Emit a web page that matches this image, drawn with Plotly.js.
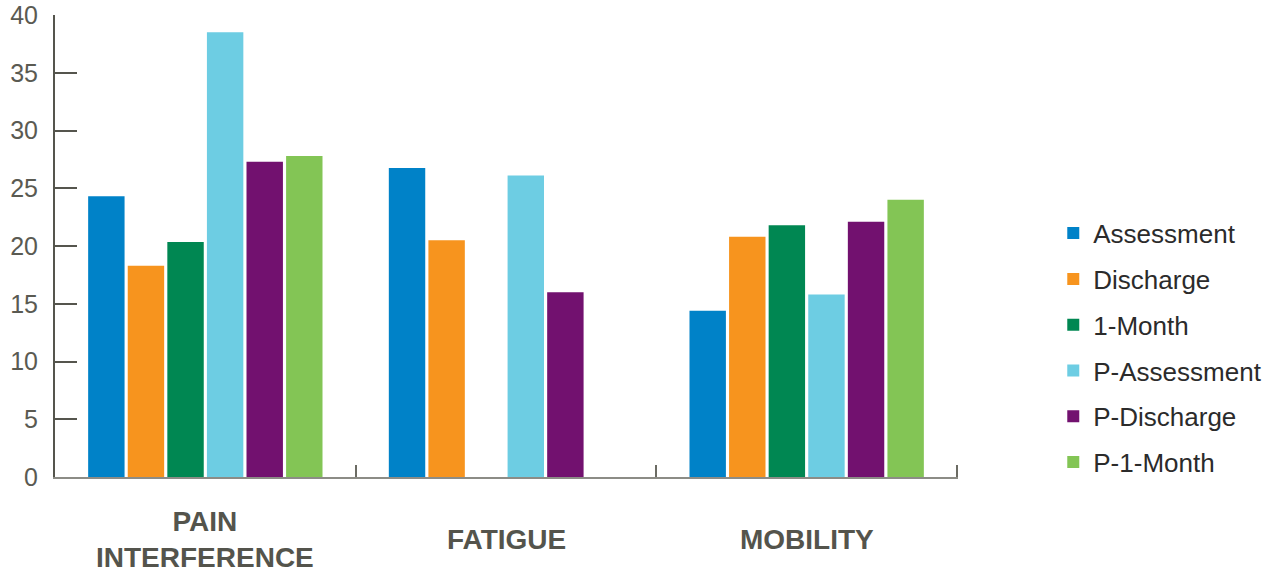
<!DOCTYPE html>
<html>
<head>
<meta charset="utf-8">
<script src="https://cdn.plot.ly/plotly-3.0.1.min.js"></script>
<style>html,body{margin:0;padding:0;background:#fff;}#chart{width:1269px;height:573px;}</style>
</head>
<body>
<div id="chart"></div>
<script>
const categories = ["PAIN INTERFERENCE", "FATIGUE", "MOBILITY"];
const categoryLabels = ["PAIN<br>INTERFERENCE", "FATIGUE", "MOBILITY"];
const seriesNames = ["Assessment", "Discharge", "1-Month", "P-Assessment", "P-Discharge", "P-1-Month"];
const assessment = [24.3, 26.75, 14.4];
const discharge = [18.3, 20.5, 20.8];
const oneMonth = [20.35, null, 21.8];
const pAssessment = [38.5, 26.1, 15.8];
const pDischarge = [27.3, 16.0, 22.1];
const pOneMonth = [27.8, null, 24.0];
const yTicks = [0, 5, 10, 15, 20, 25, 30, 35, 40];

const seriesValues = [assessment, discharge, oneMonth, pAssessment, pDischarge, pOneMonth];
const colors = ["#0082C8", "#F7941E", "#008752", "#6DCDE3", "#72116F", "#83C555"];

const traces = seriesNames.map((name, i) => ({
  type: "bar",
  name: name,
  x: categories,
  y: seriesValues[i],
  marker: {color: colors[i]},
  legendgroup: name,
  hoverinfo: "x+y+name"
}));

const annotations = categories.map((c, i) => ({
  x: c, xref: "x", y: -0.135, yref: "paper",
  text: categoryLabels[i], showarrow: false,
  xanchor: "center", yanchor: "middle", align: "center",
  font: {family: "Liberation Sans, Arial, sans-serif", size: 28, color: "#54544C", weight: "bold"}
}));

// boundary tick at the right end of the category axis
const endTick = {
  type: "line", xref: "x", yref: "paper",
  x0: categories.length - 0.5, x1: categories.length - 0.5, y0: 0, y1: 0.026,
  line: {color: "#6b6b63", width: 2}
};

const layout = {
  width: 1269, height: 573,
  margin: {l: 55, r: 311, t: 15, b: 96},
  paper_bgcolor: "#ffffff", plot_bgcolor: "#ffffff",
  barmode: "group", bargap: 0.21, bargroupgap: 0.08,
  font: {family: "Liberation Sans, Arial, sans-serif", color: "#333"},
  xaxis: {
    type: "category",
    categoryorder: "array", categoryarray: categories,
    showticklabels: false,
    tickson: "boundaries", ticks: "inside", ticklen: 12, tickwidth: 2, tickcolor: "#6b6b63",
    showline: true, linecolor: "#8c8c86", linewidth: 2,
    showgrid: false, zeroline: false, fixedrange: true
  },
  yaxis: {
    range: [0, 40], tickvals: yTicks, ticktext: yTicks.map(String),
    ticks: "inside", ticklen: 22, tickwidth: 2, tickcolor: "#55554D",
    ticklabelstandoff: 10,
    showline: true, linecolor: "#55554D", linewidth: 2,
    showgrid: false, zeroline: false, fixedrange: true,
    tickfont: {size: 25, color: "#5A5A52"}
  },
  legend: {
    xref: "container", yref: "container",
    x: 0.83, xanchor: "left", y: 0.634, yanchor: "top",
    font: {size: 26, color: "#2b2b2b"},
    traceorder: "grouped", tracegroupgap: 9,
    bgcolor: "rgba(0,0,0,0)"
  },
  shapes: [endTick],
  annotations: annotations,
  showlegend: true
};

Plotly.newPlot("chart", traces, layout, {displayModeBar: false, staticPlot: true});
</script>
</body>
</html>
